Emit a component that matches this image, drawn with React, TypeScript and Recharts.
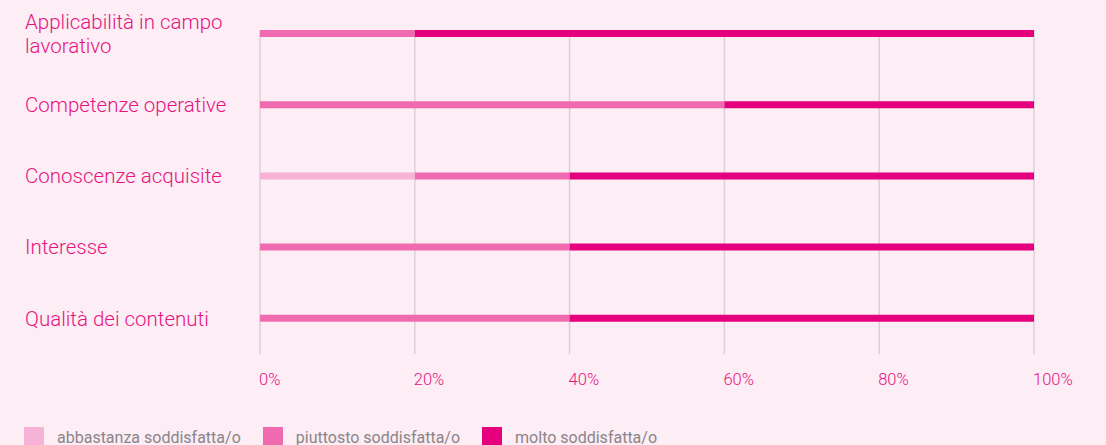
import React from "react";
import {
  BarChart,
  Bar,
  XAxis,
  YAxis,
  CartesianGrid,
  Legend,
  Text,
} from "recharts";

document.body.style.margin = "0";

const categories = [
  "Applicabilità in campo lavorativo",
  "Competenze operative",
  "Conoscenze acquisite",
  "Interesse",
  "Qualità dei contenuti",
];
const abbastanza = [0, 0, 20, 0, 0];
const piuttosto = [20, 60, 20, 40, 40];
const molto = [80, 40, 60, 60, 60];
const xTicks = [0, 20, 40, 60, 80, 100];

const SERIES = [
  { key: "abbastanza", label: "abbastanza soddisfatta/o", color: "#f7b3d7" },
  { key: "piuttosto", label: "piuttosto soddisfatta/o", color: "#f06aaf" },
  { key: "molto", label: "molto soddisfatta/o", color: "#e5007e" },
];

const data = categories.map((name, i) => ({
  name,
  abbastanza: abbastanza[i],
  piuttosto: piuttosto[i],
  molto: molto[i],
}));

const FONT = "Roboto, 'Noto Sans', sans-serif";
const PINK_TEXT = "#e6147f";

// wraps long category names onto two lines, left aligned at the page edge
const renderYTick = (props: any) => {
  const { y, payload } = props;
  return (
    <Text
      x={25}
      y={y}
      width={225}
      textAnchor="start"
      verticalAnchor="middle"
      lineHeight="1.2em"
      fill={PINK_TEXT}
      fontSize={20.5}
      fontWeight={300}
      fontFamily={FONT}
      style={{ fontFamily: FONT, fontSize: 20.5, fontWeight: 300 }}
    >
      {payload.value}
    </Text>
  );
};

const renderXTick = (props: any) => {
  const { x, y, payload } = props;
  return (
    <text
      x={x - 1}
      y={y + 17}
      textAnchor="start"
      dominantBaseline="central"
      fill={PINK_TEXT}
      fontSize={16.5}
      fontWeight={300}
      fontFamily={FONT}
    >
      {`${payload.value}%`}
    </text>
  );
};

const LegendContent = () => (
  <div style={{ display: "flex", height: 20, fontFamily: FONT }}>
    {SERIES.map((s) => (
      <div
        key={s.key}
        style={{ display: "flex", alignItems: "center", marginRight: 22 }}
      >
        <span
          style={{ width: 20, height: 20, background: s.color, display: "inline-block" }}
        />
        <span style={{ marginLeft: 13, fontSize: 16, color: "#8a8589" }}>{s.label}</span>
      </div>
    ))}
  </div>
);

export default function App() {
  return (
    <div style={{ width: 1106, height: 445, background: "#fdedf5", overflow: "hidden" }}>
      <BarChart
        width={1106}
        height={445}
        data={data}
        layout="vertical"
        margin={{ top: -2, right: 72, bottom: -2, left: 0 }}
        barSize={7}
      >
        <CartesianGrid
          horizontal={false}
          y={30}
          height={324}
          stroke="#d9d1d6"
          strokeWidth={1.5}
        />
        <XAxis
          type="number"
          domain={[0, 100]}
          ticks={xTicks}
          axisLine={false}
          tickLine={false}
          height={73}
          tick={renderXTick}
        />
        <YAxis
          type="category"
          dataKey="name"
          width={260}
          axisLine={false}
          tickLine={false}
          tick={renderYTick}
        />
        <Legend
          verticalAlign="bottom"
          align="left"
          content={<LegendContent />}
          wrapperStyle={{ left: 24 }}
        />
        {SERIES.map((s) => (
          <Bar
            key={s.key}
            dataKey={s.key}
            name={s.label}
            stackId="a"
            fill={s.color}
            isAnimationActive={false}
          />
        ))}
      </BarChart>
    </div>
  );
}
